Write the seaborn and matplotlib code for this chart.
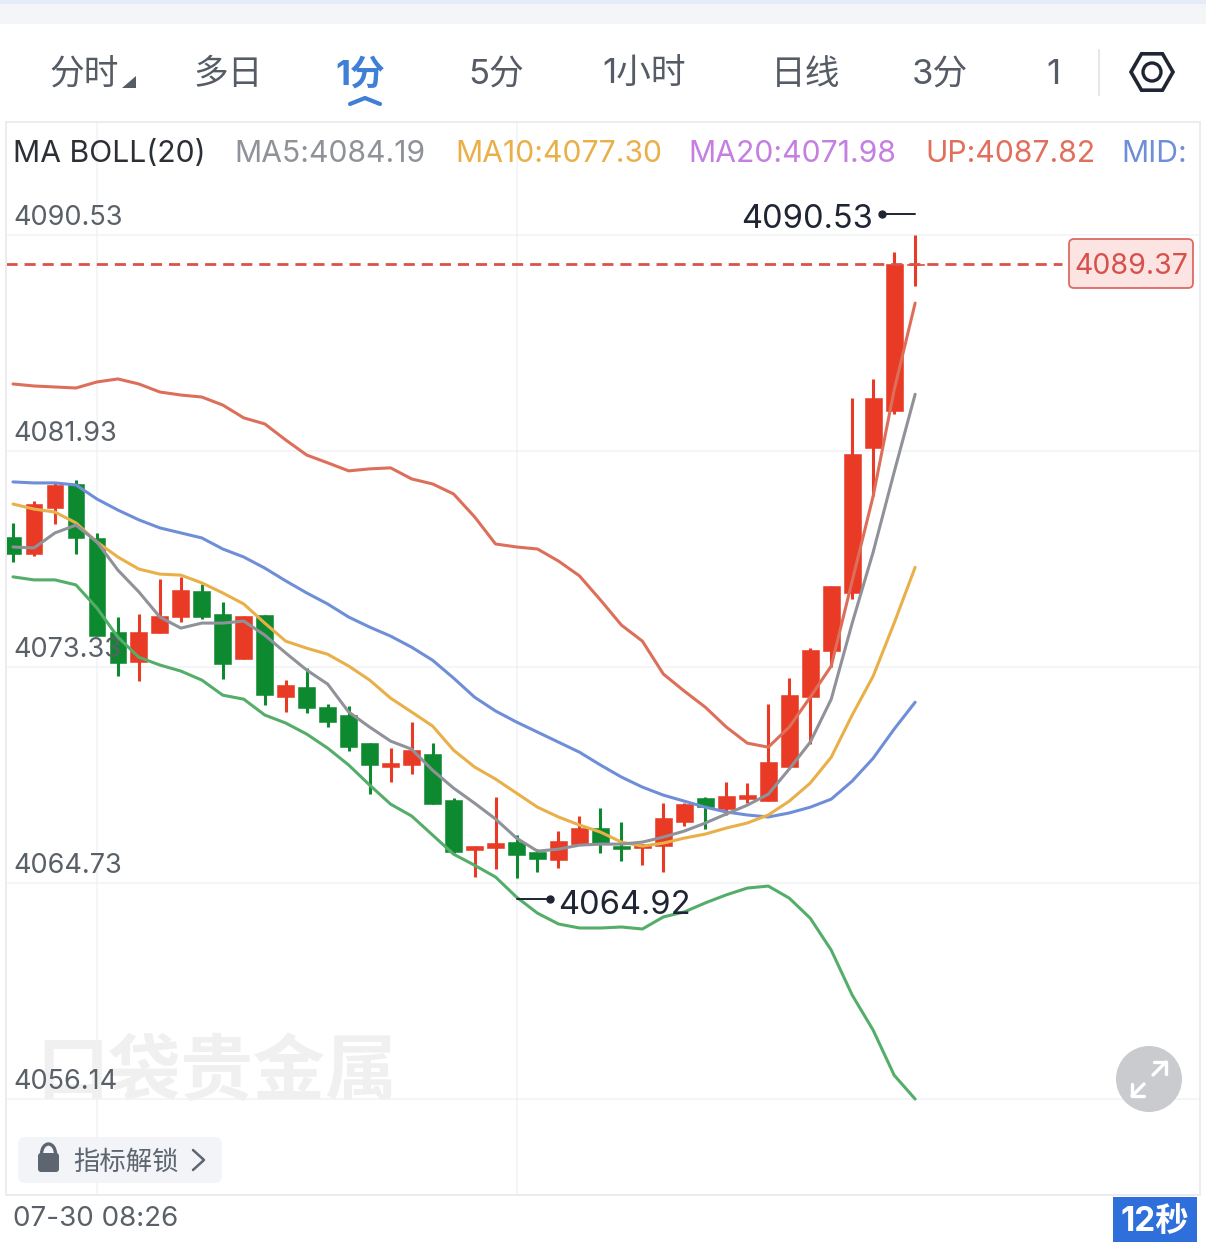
import numpy as np
import pandas as pd
import matplotlib
matplotlib.use('Agg')
import matplotlib.pyplot as plt
import seaborn as sns
from matplotlib.patches import FancyBboxPatch, Rectangle, RegularPolygon, Circle, Polygon, Arc

# candles
open_p = [4078.51, 4077.83, 4079.66, 4080.62, 4078.47, 4074.72, 4073.53, 4074.68, 4075.32, 4076.36, 4075.44,
          4073.64, 4075.40, 4072.13, 4072.53, 4071.73, 4071.42, 4070.30, 4069.35, 4069.43, 4069.86, 4068.03,
          4066.04, 4066.12, 4066.36, 4065.96, 4065.64, 4066.28, 4066.92, 4066.20, 4066.12, 4066.20, 4067.16,
          4068.11, 4067.67, 4068.07, 4067.99, 4069.35, 4072.13, 4073.96, 4076.28, 4082.05, 4083.52, 4089.32]
close_p = [4077.83, 4079.82, 4080.58, 4078.47, 4074.56, 4073.49, 4074.72, 4075.36, 4076.40, 4075.32, 4073.45,
           4075.36, 4072.21, 4072.61, 4071.69, 4071.14, 4070.14, 4069.43, 4069.51, 4070.02, 4067.87, 4065.96,
           4066.20, 4066.32, 4065.84, 4065.68, 4066.40, 4066.92, 4066.28, 4066.08, 4066.28, 4067.32, 4067.87,
           4067.75, 4068.19, 4068.23, 4069.55, 4072.21, 4074.01, 4076.56, 4081.81, 4084.04, 4089.37, 4089.37]
high_p = [4079.07, 4079.94, 4080.70, 4080.78, 4078.67, 4075.32, 4075.44, 4076.84, 4076.92, 4076.64, 4075.92,
          4075.36, 4075.40, 4072.81, 4073.29, 4071.85, 4071.77, 4070.30, 4070.10, 4071.14, 4070.30, 4068.11,
          4066.20, 4068.15, 4066.64, 4066.08, 4066.80, 4067.40, 4067.71, 4067.16, 4066.28, 4067.91, 4067.91,
          4068.15, 4068.75, 4068.71, 4071.85, 4072.89, 4074.09, 4076.56, 4084.04, 4084.80, 4089.85, 4090.53]
low_p = [4077.52, 4077.75, 4079.03, 4077.83, 4074.56, 4072.97, 4072.77, 4074.68, 4075.12, 4075.24, 4072.85,
         4073.64, 4071.81, 4071.54, 4071.50, 4070.94, 4069.98, 4068.27, 4068.75, 4069.07, 4067.87, 4065.92,
         4064.97, 4065.29, 4064.92, 4065.16, 4065.32, 4066.28, 4065.92, 4065.60, 4065.44, 4065.16, 4067.00,
         4066.88, 4067.44, 4067.91, 4067.99, 4069.35, 4070.26, 4073.33, 4076.04, 4080.14, 4083.40, 4088.50]

# indicator lines
ma5 = [4078.11, 4078.07, 4078.67, 4078.98, 4078.31, 4077.19, 4076.32, 4075.32, 4074.88, 4075.08, 4075.08,
       4075.16, 4074.60, 4073.89, 4073.21, 4072.65, 4071.54, 4070.94, 4070.38, 4070.06, 4069.22, 4068.51,
       4067.91, 4067.28, 4066.52, 4066.00, 4066.08, 4066.24, 4066.28, 4066.28, 4066.36, 4066.56, 4066.80,
       4067.12, 4067.48, 4067.83, 4068.27, 4069.27, 4070.34, 4072.05, 4075.08, 4077.91, 4081.09, 4084.19]
ma10 = [4079.82, 4079.62, 4079.50, 4079.07, 4078.31, 4077.71, 4077.23, 4077.03, 4076.99, 4076.68, 4076.28,
        4075.84, 4075.08, 4074.36, 4074.08, 4073.84, 4073.37, 4072.81, 4072.09, 4071.54, 4070.98, 4070.02,
        4069.35, 4068.87, 4068.31, 4067.75, 4067.36, 4067.04, 4066.76, 4066.36, 4066.20, 4066.32, 4066.52,
        4066.68, 4066.92, 4067.12, 4067.44, 4067.99, 4068.71, 4069.74, 4071.42, 4072.97, 4075.08, 4077.30]
boll_up = [4084.60, 4084.52, 4084.48, 4084.44, 4084.68, 4084.80, 4084.60, 4084.28, 4084.16, 4084.08, 4083.76,
           4083.25, 4083.01, 4082.37, 4081.77, 4081.46, 4081.14, 4081.22, 4081.26, 4080.82, 4080.62, 4080.22,
           4079.31, 4078.23, 4078.11, 4078.03, 4077.55, 4076.96, 4076.00, 4075.00, 4074.36, 4073.05, 4072.37,
           4071.73, 4070.94, 4070.30, 4070.14, 4070.94, 4072.13, 4073.37, 4076.76, 4080.14, 4084.36, 4087.82]
boll_mid = [4080.70, 4080.66, 4080.66, 4080.58, 4080.02, 4079.58, 4079.19, 4078.87, 4078.67, 4078.47, 4078.03,
            4077.71, 4077.27, 4076.76, 4076.28, 4075.84, 4075.32, 4074.92, 4074.56, 4074.12, 4073.60, 4072.89,
            4072.13, 4071.58, 4071.14, 4070.74, 4070.34, 4069.94, 4069.43, 4068.95, 4068.55, 4068.23, 4067.99,
            4067.75, 4067.56, 4067.44, 4067.36, 4067.52, 4067.75, 4068.07, 4068.79, 4069.70, 4070.86, 4071.93]
boll_low = [4076.92, 4076.80, 4076.80, 4076.60, 4075.68, 4074.52, 4073.72, 4073.41, 4073.17, 4072.81, 4072.21,
            4072.05, 4071.42, 4071.10, 4070.66, 4070.10, 4069.43, 4068.63, 4067.87, 4067.40, 4066.64, 4065.88,
            4065.44, 4064.97, 4064.17, 4063.53, 4063.10, 4062.94, 4062.94, 4062.98, 4062.90, 4063.38, 4063.58,
            4063.94, 4064.26, 4064.53, 4064.61, 4064.13, 4063.33, 4062.06, 4060.27, 4058.87, 4057.08, 4056.13]

y_ticks = [4090.53, 4081.93, 4073.33, 4064.73, 4056.14]
x_ticks = [4, 24]
last_price = 4089.37
tabs = ['分时', '多日', '1分', '5分', '1小时', '日线', '3分', '1']
legend_items = ['MA BOLL(20)', 'MA5:4084.19', 'MA10:4077.30', 'MA20:4071.98', 'UP:4087.82', 'MID:']

RED = '#e83a25'
GREEN = '#0d8a30'
line_colors = {'MA5': '#8f9299', 'MA10': '#e9b04a', 'UP': '#dd6f5a', 'MID': '#6f8ed8', 'LOW': '#55ad6a'}

sns.set_theme(style='white')
plt.rcParams['font.family'] = ['Inter', 'Noto Sans CJK SC', 'DejaVu Sans']

W, H = 1206, 1242
fig = plt.figure(figsize=(W / 100, H / 100), dpi=100, facecolor='white')

# main axes lines up with the chart frame
ax = fig.add_axes([6 / W, 1 - 1195 / H, 1194 / W, 1073 / H], zorder=1)
# screen-space axes for the app's buttons and labels
ui = fig.add_axes([0, 0, 1, 1], zorder=3)
ui.set_xlim(0, W)
ui.set_ylim(H, 0)
ui.axis('off')
ui.patch.set_alpha(0)

idx = np.arange(len(open_p))
o = np.array(open_p)
c = np.array(close_p)
colors = [RED if b >= a else GREEN for a, b in zip(o, c)]

ax.text(217, 1074, '口袋贵金属', transform=ui.transData, ha='center', va='center', fontsize=52,
        fontweight='bold', color='#f0f0f0', zorder=0, family=['Noto Sans CJK SC'])

ax.vlines(idx, low_p, high_p, colors=colors, linewidth=2.2, zorder=2)
ax.bar(idx, np.abs(c - o), bottom=np.minimum(o, c), width=0.8, color=colors, linewidth=0.4, edgecolor=colors, zorder=2)

df = pd.DataFrame({'i': idx, 'UP': boll_up, 'MID': boll_mid, 'LOW': boll_low, 'MA10': ma10, 'MA5': ma5})
df = df.melt(id_vars='i', var_name='series', value_name='price')
sns.lineplot(data=df, x='i', y='price', hue='series', palette=line_colors, legend=False, estimator=None,
             linewidth=2.2, ax=ax, zorder=3)

ax.axhline(last_price, xmax=(1062 - 6) / 1194, color='#d9534a', linewidth=2.0, dashes=(4, 2.5), zorder=2)

ax.set_xlim((6 - 13) / 20.98, (1200 - 13) / 20.98)
ax.set_ylim(4052.31, 4095.03)
ax.set_xticks(x_ticks)
ax.set_yticks(y_ticks)
ax.set_xticklabels([])
ax.set_yticklabels([])
ax.set_xlabel('')
ax.set_ylabel('')
ax.tick_params(length=0)
ax.grid(True, color='#f1f2f4', linewidth=1.1)
ax.set_axisbelow(True)
for s in ax.spines.values():
    s.set_color('#ececef')
    s.set_linewidth(1.4)

for t in y_ticks:
    ax.annotate(f'{t:.2f}', xy=(0, t), xycoords=ax.get_yaxis_transform(), xytext=(7, 10),
                textcoords='offset pixels', fontsize=19.5, color='#5a6068', zorder=6, va='baseline')

# top strip
ui.add_patch(Rectangle((0, 0), W, 4, color='#e4ecf8', lw=0))
ui.add_patch(Rectangle((0, 4), W, 20, color='#f4f5f9', lw=0))

# tabs
tab_x = [49, 193, 335, 468, 602, 771, 912, 1046]
for name, x in zip(tabs, tab_x):
    active = name == '1分'
    ui.text(x, 75, name, fontsize=25, va='center', color='#3f7fd6' if active else '#565c66',
            fontweight='bold' if active else 'normal')
ui.add_patch(Polygon([[122, 88], [136, 88], [136, 76]], color='#565c66', lw=0))
ui.plot([350, 365, 380], [104, 98, 104], color='#3f7fd6', lw=3, solid_capstyle='round')
ui.plot([1099, 1099], [50, 95], color='#e6e7ea', lw=1.5)
ui.add_patch(RegularPolygon((1152, 72), 6, radius=21, orientation=np.pi / 2, fill=False, ec='#1f2533', lw=2.6))
ui.add_patch(Circle((1152, 72), 9, fill=False, ec='#1f2533', lw=2.4))

# indicator legend row
legend_x = [13, 234, 455, 688, 925, 1121]
legend_c = ['#2b2f36', '#8f9299', '#e9b04a', '#c47fe0', '#e0705c', '#6f8ed8']
for label, x, col in zip(legend_items, legend_x, legend_c):
    txt = ui.text(x, 154, label, fontsize=21.7, va='center', color=col)
    if label == 'MID:':
        txt.set_clip_path(Rectangle((1100, 130), 83, 45, transform=ui.transData))

# high / low markers
ui.text(873, 219, '4090.53', fontsize=23.5, color='#1f2533', va='center', ha='right')
ui.plot([882, 915], [214, 214], color='#1f2533', lw=1.4)
ui.plot([882], [214], 'o', color='#1f2533', ms=5)
ui.text(558, 905, '4064.92', fontsize=23.5, color='#1f2533', va='center')
ui.plot([517, 550], [899, 899], color='#1f2533', lw=1.4)
ui.plot([550], [899], 'o', color='#1f2533', ms=5)

# last price tag
ui.add_patch(FancyBboxPatch((1072, 242), 118, 43, boxstyle='round,pad=3,rounding_size=5', fc='#fbe4e2', ec='#dd6a64', lw=1.3))
ui.text(1131, 266, f'{last_price:.2f}', fontsize=20.5, color='#d8504c', ha='center', va='center')

# expand button
ui.add_patch(Circle((1149, 1079), 33, color='#c9cbce', lw=0))
for px, py in [([1132, 1144], [1096, 1084]), ([1153, 1166], [1075, 1062]),
               ([1132, 1132, 1144], [1084, 1096, 1096]), ([1154, 1166, 1166], [1062, 1062, 1074])]:
    ui.plot(px, py, color='white', lw=2.4, solid_capstyle='round')

# lock button
ui.add_patch(FancyBboxPatch((24, 1143), 192, 34, boxstyle='round,pad=6,rounding_size=7', fc='#f3f4f7', ec='none'))
ui.add_patch(FancyBboxPatch((38, 1153), 21, 19, boxstyle='round,pad=0,rounding_size=3', fc='#5d6570', ec='none'))
ui.add_patch(Arc((48.5, 1154), 14, 20, theta1=180, theta2=360, ec='#5d6570', lw=2.4))
ui.text(73, 1163, '指标解锁', fontsize=19, va='center', color='#5d6570')
ui.plot([193, 204, 193], [1150, 1160, 1170], color='#5d6570', lw=1.8)

# time axis and countdown
ui.text(13, 1219, '07-30 08:26', fontsize=20, va='center', color='#5a6068')
ui.add_patch(Rectangle((1113, 1197), 84, 45, color='#2f6fdb', lw=0))
ui.text(1155, 1222, '12秒', fontsize=24, fontweight='bold', color='white', ha='center', va='center')

plt.savefig('out.png', dpi=100)
